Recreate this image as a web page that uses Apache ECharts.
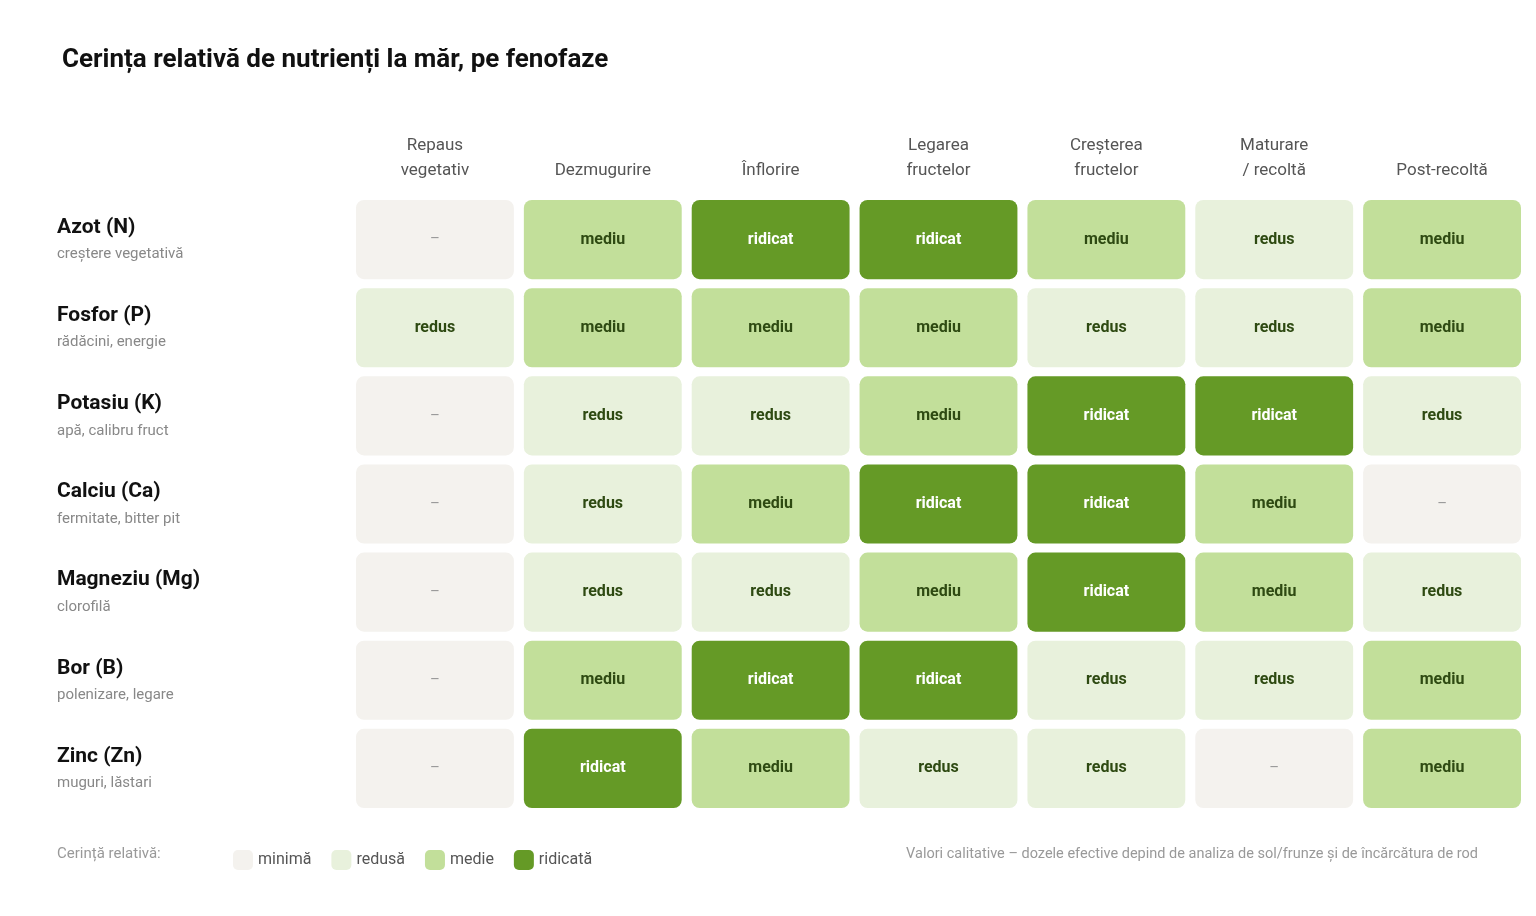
<!DOCTYPE html>
<html><head><meta charset="utf-8">
<script src="https://cdn.jsdelivr.net/npm/echarts@6/dist/echarts.min.js"></script>
<style>html,body{margin:0;padding:0;background:#fff}#c{width:1536px;height:916px}</style>
</head><body><div id="c"></div>
<script>
const phases = ['Repaus\nvegetativ','Dezmugurire','Înflorire','Legarea\nfructelor','Creșterea\nfructelor','Maturare\n/ recoltă','Post-recoltă'];
const nutrients = ['Azot (N)','Fosfor (P)','Potasiu (K)','Calciu (Ca)','Magneziu (Mg)','Bor (B)','Zinc (Zn)'];
const roles = ['creștere vegetativă','rădăcini, energie','apă, calibru fruct','fermitate, bitter pit','clorofilă','polenizare, legare','muguri, lăstari'];
const levels = [
 [0,2,3,3,2,1,2],
 [1,2,2,2,1,1,2],
 [0,1,1,2,3,3,1],
 [0,1,2,3,3,2,0],
 [0,1,1,2,3,2,1],
 [0,2,3,3,1,1,2],
 [0,3,2,1,1,0,2]
];
const cellText = ['–','redus','mediu','ridicat'];
const legendNames = ['minimă','redusă','medie','ridicată'];
const colors = ['#f4f2ee','#e8f1dc','#c2df9a','#659a26'];
const txtColors = ['#999','#2e4a12','#2e4a12','#ffffff'];

const series = legendNames.map((nm, lv) => {
  const d = [];
  levels.forEach((row, r) => row.forEach((v, c) => { if (v === lv) d.push([c, r, v]); }));
  return {
    type: 'custom', name: nm, data: d, itemStyle: {color: colors[lv]},
    renderItem: (params, api) => {
      const p = api.coord([api.value(0), api.value(1)]);
      const s = api.size([1, 1]);
      const w = s[0] - 10, h = s[1] - 9;
      return {
        type: 'rect',
        shape: {x: p[0] - w/2, y: p[1] - h/2, width: w, height: h, r: 8},
        style: {fill: colors[lv]},
        textContent: {style: {text: cellText[lv], fill: txtColors[lv], fontSize: lv === 0 ? 15 : 16, fontWeight: lv === 0 ? 'normal' : 'bold', fontFamily: 'Roboto'}},
        textConfig: {position: 'inside'}
      };
    }
  };
});

const chart = echarts.init(document.getElementById('c'));
chart.setOption({
  animation: false,
  textStyle: {fontFamily: 'Roboto'},
  title: {text: 'Cerința relativă de nutrienți la măr, pe fenofaze', left: 57, top: 42,
    textStyle: {fontSize: 26, fontWeight: 'bold', color: '#111', fontFamily: 'Roboto'}},
  grid: {left: 351, right: 10, top: 195.5, bottom: 103.5},
  xAxis: {type: 'category', data: phases, position: 'top',
    axisLine: {show: false}, axisTick: {show: false}, splitLine: {show: false},
    axisLabel: {color: '#555', fontSize: 17, lineHeight: 25, margin: 12, interval: 0}},
  yAxis: {type: 'category', data: nutrients, inverse: true,
    axisLine: {show: false}, axisTick: {show: false},
    axisLabel: {align: 'left', margin: 294, interval: 0,
      formatter: (v, i) => '{a|' + v + '}\n{b|' + roles[i] + '}',
      rich: {a: {fontSize: 21, fontWeight: 'bold', color: '#111', lineHeight: 30, padding: [0,0,0,0]},
             b: {fontSize: 15, color: '#888', lineHeight: 24}}}},
  legend: {left: 228, top: 845, itemWidth: 20, itemHeight: 20, itemGap: 20, icon: 'roundRect',
    selectedMode: false, data: legendNames,
    textStyle: {color: '#555', fontSize: 16, width: 90}},
  graphic: [
    {type: 'text', left: 57, top: 847, style: {text: 'Cerință relativă:', fill: '#999', fontSize: 15, fontFamily: 'Roboto'}},
    {type: 'text', right: 58, top: 847, style: {text: 'Valori calitative – dozele efective depind de analiza de sol/frunze și de încărcătura de rod', fill: '#999', fontSize: 14.5, fontFamily: 'Roboto'}}
  ],
  series: series
});
</script></body></html>
